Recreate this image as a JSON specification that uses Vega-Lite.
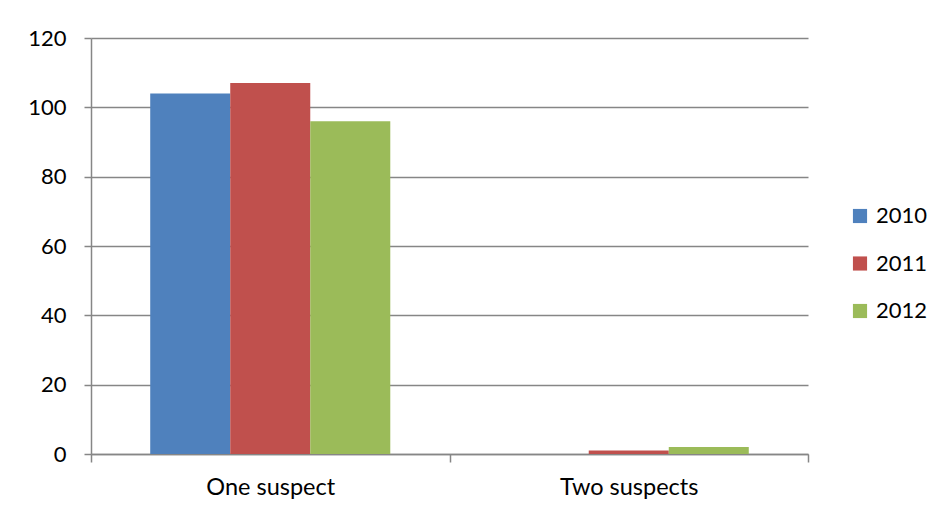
{
  "$schema": "https://vega.github.io/schema/vega-lite/v6.json",
  "autosize": {"type": "none"},
  "width": 717,
  "height": 416,
  "padding": {"left": 91, "top": 38, "right": 133, "bottom": 62},
  "background": "white",
  "data": {"values": [
    {"category": "One suspect", "year": "2010", "value": 104},
    {"category": "One suspect", "year": "2011", "value": 107},
    {"category": "One suspect", "year": "2012", "value": 96},
    {"category": "Two suspects", "year": "2010", "value": 0},
    {"category": "Two suspects", "year": "2011", "value": 1},
    {"category": "Two suspects", "year": "2012", "value": 2}
  ]},
  "mark": {"type": "bar"},
  "encoding": {
    "x": {
      "field": "category", "type": "nominal",
      "scale": {"paddingInner": 0, "paddingOuter": 0},
      "axis": {"title": null, "labelAngle": 0, "tickBand": "extent", "tickSize": 8, "tickColor": "#868686", "domainColor": "#868686", "domainWidth": 1.5, "tickWidth": 1.5, "labelFontSize": 23.5, "labelFont": "Lato", "labelColor": "#000000", "labelPadding": 13}
    },
    "xOffset": {
      "field": "year", "type": "nominal",
      "scale": {"paddingOuter": 0.74, "paddingInner": 0}
    },
    "y": {
      "field": "value", "type": "quantitative",
      "scale": {"domain": [0, 120], "nice": false},
      "axis": {"title": null, "values": [0, 20, 40, 60, 80, 100, 120], "tickSize": 7, "tickColor": "#868686", "domainColor": "#868686", "domainWidth": 1.5, "tickWidth": 1.5, "gridColor": "#868686", "gridWidth": 1.5, "labelFontSize": 22, "labelFont": "Lato", "labelColor": "#000000", "labelPadding": 18}
    },
    "color": {
      "field": "year", "type": "nominal",
      "scale": {"domain": ["2010", "2011", "2012"], "range": ["#4F81BD", "#C0504D", "#9BBB59"]},
      "legend": {"title": null, "orient": "none", "legendX": 758, "legendY": 167, "symbolType": "square", "symbolSize": 200, "symbolStrokeWidth": 0, "labelFontSize": 22, "labelFont": "Lato", "labelColor": "#000000", "rowPadding": 25.5, "labelOffset": 5}
    }
  },
  "config": {"view": {"stroke": null}}
}
